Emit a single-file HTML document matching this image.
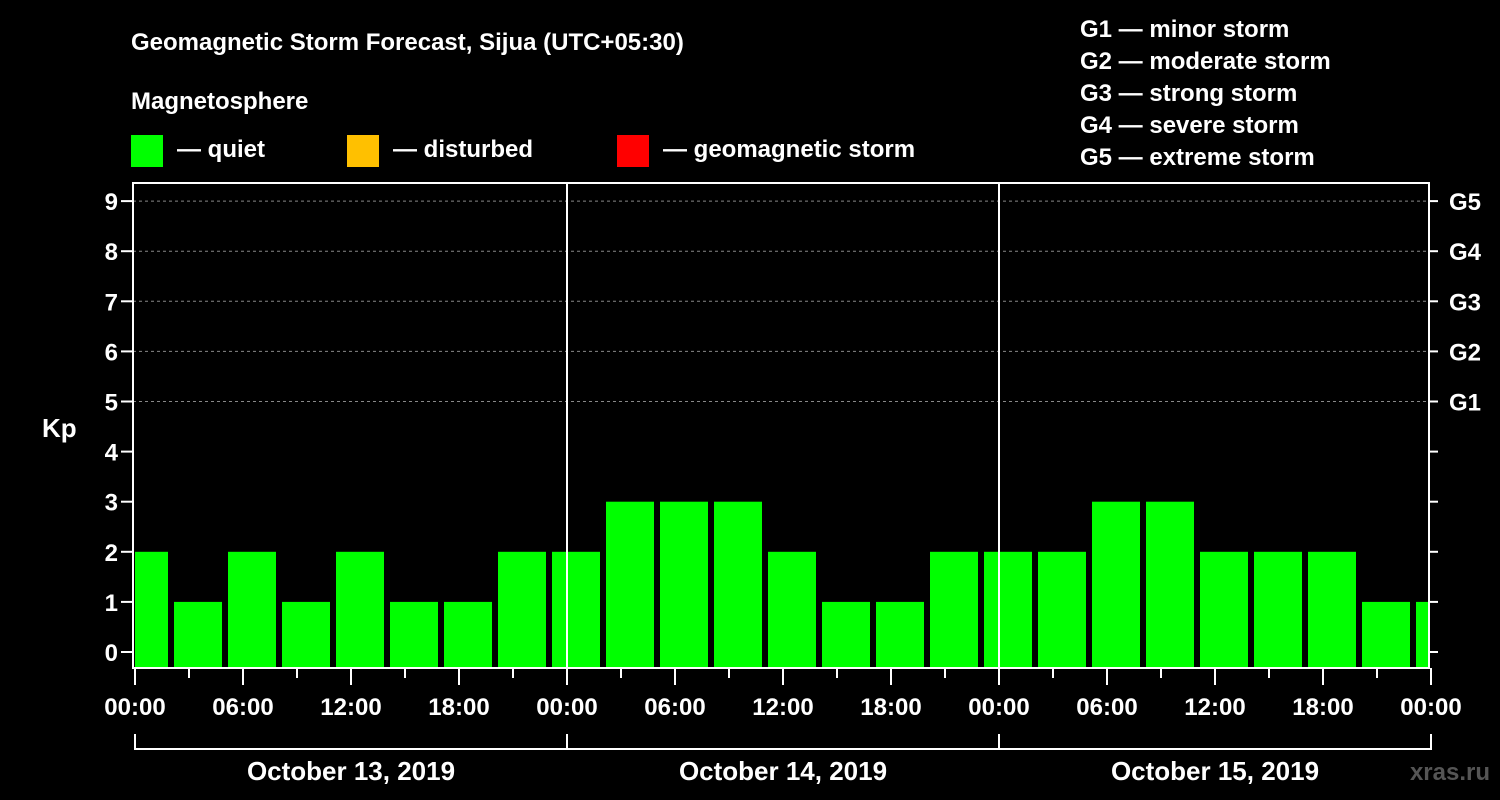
<!DOCTYPE html>
<html><head><meta charset="utf-8"><style>
body{margin:0;background:#000;width:1500px;height:800px;overflow:hidden}
svg{display:block}
text{font-family:"Liberation Sans",sans-serif;font-weight:bold;fill:#fff}
</style></head><body>
<svg id="c" width="1500" height="800">
<text x="131" y="50" font-size="24">Geomagnetic Storm Forecast, Sijua (UTC+05:30)</text>
<text x="131" y="109" font-size="24">Magnetosphere</text>
<rect x="131" y="135" width="32" height="32" fill="#00ff00"/>
<text x="177" y="157" font-size="24">— quiet</text>
<rect x="347" y="135" width="32" height="32" fill="#ffc000"/>
<text x="393" y="157" font-size="24">— disturbed</text>
<rect x="617" y="135" width="32" height="32" fill="#ff0000"/>
<text x="663" y="157" font-size="24">— geomagnetic storm</text>
<g font-size="24">
<text x="1080" y="37">G1 — minor storm</text>
<text x="1080" y="69">G2 — moderate storm</text>
<text x="1080" y="101">G3 — strong storm</text>
<text x="1080" y="133">G4 — severe storm</text>
<text x="1080" y="165">G5 — extreme storm</text>
</g>
<text x="42" y="437" font-size="26">Kp</text>
<text x="1490" y="780" font-size="24" fill="#555" style="fill:#555" text-anchor="end">xras.ru</text>
<g id="plot"></g>
</svg>
<script>
const kpValues=[2,1,2,1,2,1,1,2, 2,3,3,3,2,1,1,2, 2,2,3,3,2,2,2,1, 1];
const yTicks=[0,1,2,3,4,5,6,7,8,9];
const gLabels=["G1","G2","G3","G4","G5"];
const xTickLabels=["00:00","06:00","12:00","18:00","00:00","06:00","12:00","18:00","00:00","06:00","12:00","18:00","00:00"];
const dateLabels=["October 13, 2019","October 14, 2019","October 15, 2019"];
const NS="http://www.w3.org/2000/svg";
const L=133,R=1429,T=183,B=668,x0=135;
const xs=h=>x0+18*h;
const ys=k=>652-50.1*k;
const g=document.getElementById('plot');
function mk(t,a){const e=document.createElementNS(NS,t);for(const k in a)e.setAttribute(k,a[k]);g.appendChild(e);return e;}
// bars
kpValues.forEach((v,i)=>{
  const c=xs(0.5+3*i);let x1=Math.max(c-24,L+2),x2=Math.min(c+24,R-1);
  const col=v>=5?"#ff0000":(v>=4?"#ffc000":"#00ff00");
  const r=mk('rect',{x:x1,y:ys(v),width:x2-x1,height:B-ys(v),fill:col});
  
  
});
// grid
yTicks.forEach(k=>{
  if(k>=5){const l=mk('line',{x1:L,x2:R,y1:ys(k),y2:ys(k),stroke:'#888','stroke-dasharray':'3,3','stroke-width':1});
  }
  const t1=mk('line',{x1:L-12,x2:L,y1:ys(k),y2:ys(k),stroke:'#fff','stroke-width':2});
  
  const t2=mk('line',{x1:R,x2:R+9,y1:ys(k),y2:ys(k),stroke:'#fff','stroke-width':2});
  
  const tx=mk('text',{x:L-15,y:ys(k)+9,'font-size':24,'text-anchor':'end'});tx.textContent=k;
  
  if(k>=5){const gt=mk('text',{x:R+20,y:ys(k)+9,'font-size':24});gt.textContent=gLabels[k-5];
  }
});
// day dividers and border
[24,48].forEach(h=>{const l=mk('line',{x1:xs(h),x2:xs(h),y1:T,y2:B,stroke:'#fff','stroke-width':2});
});
const br=mk('rect',{x:L,y:T,width:R-L,height:B-T,fill:'none',stroke:'#fff','stroke-width':2});

// x ticks
for(let h=0;h<=72;h+=3){const long=h%6===0;const l=mk('line',{x1:xs(h),x2:xs(h),y1:B,y2:B+(long?17:10),stroke:'#fff','stroke-width':2});
}
xTickLabels.forEach((s,i)=>{const t=mk('text',{x:xs(6*i),y:715,'font-size':24,'text-anchor':'middle'});t.textContent=s;
});
// date bracket
const bl=mk('line',{x1:xs(0),x2:xs(72),y1:749,y2:749,stroke:'#fff','stroke-width':2});

[0,24,48,72].forEach(h=>{const l=mk('line',{x1:xs(h),x2:xs(h),y1:734,y2:750,stroke:'#fff','stroke-width':2});
});
dateLabels.forEach((s,i)=>{const t=mk('text',{x:xs(24*i+12),y:780,'font-size':26,'text-anchor':'middle'});t.textContent=s;
});
</script>
</body></html>
